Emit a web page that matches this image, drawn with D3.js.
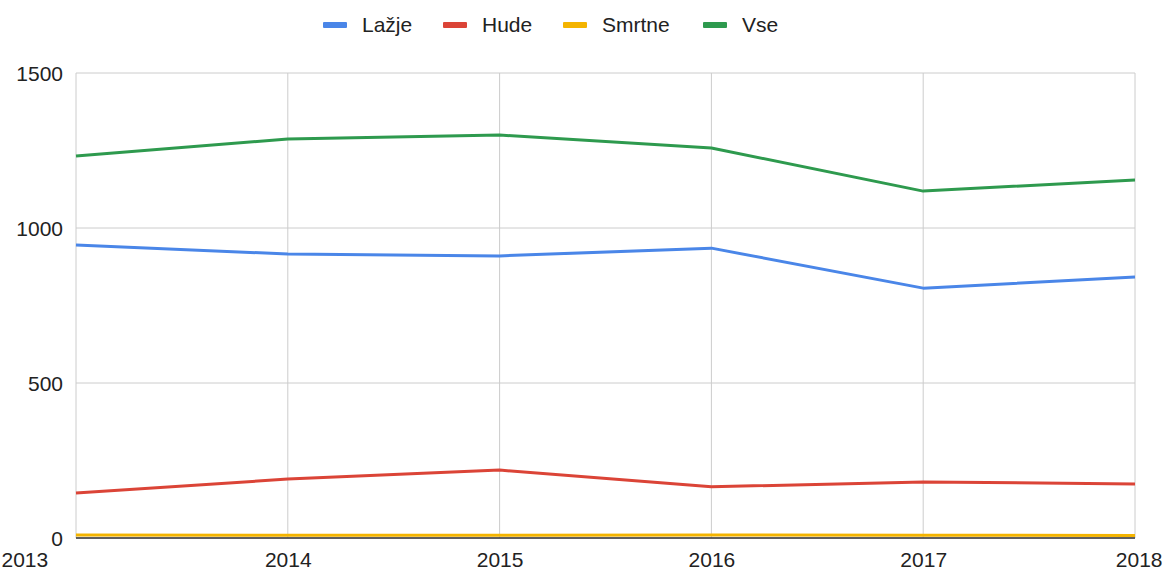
<!DOCTYPE html>
<html>
<head>
<meta charset="utf-8">
<script src="https://cdn.jsdelivr.net/npm/d3@7"></script>
<style>
  body { margin: 0; background: #fff; }
  svg { font-family: "Liberation Sans", Arial, sans-serif; }
  .grid line { stroke: #cccccc; stroke-width: 1; }
  .tick text { fill: #222; font-size: 21px; }
</style>
</head>
<body>
<div id="chart"></div>
<script>
var years   = ["2013", "2014", "2015", "2016", "2017", "2018"]
var lazje   = [945, 916, 910, 935, 806, 842]
var hude    = [145, 190, 219, 165, 181, 174]
var smrtne  = [10, 9, 9, 10, 9, 8]
var vse     = [1232, 1287, 1300, 1258, 1119, 1155]
var yTicks  = [0, 500, 1000, 1500]

var series = [
  {name: "Lažje",  color: "#4a86e8", values: lazje},
  {name: "Hude",   color: "#db4437", values: hude},
  {name: "Smrtne", color: "#f4b400", values: smrtne},
  {name: "Vse",    color: "#2e9a4e", values: vse}
]

var W = 1166, H = 573
var margin = {top: 73, right: 31, bottom: 35, left: 76},
    width  = W - margin.left - margin.right,
    height = H - margin.top - margin.bottom

var svg = d3.select("#chart").append("svg")
  .attr("width", W)
  .attr("height", H)

var g = svg.append("g")
  .attr("transform", "translate(" + margin.left + "," + margin.top + ")")

var x = d3.scalePoint()
  .domain(years)
  .range([0, width])

var y = d3.scaleLinear()
  .domain([0, 1500])
  .range([height, 0])

// gridlines
g.append("g").classed("grid", true)
  .selectAll("line.h").data(yTicks).enter().append("line")
  .attr("x1", 0).attr("x2", width)
  .attr("y1", d => y(d)).attr("y2", d => y(d))

g.select(".grid")
  .selectAll("line.v").data(years).enter().append("line")
  .attr("x1", d => x(d)).attr("x2", d => x(d))
  .attr("y1", 0).attr("y2", height)

// y axis labels
var ya = g.append("g")
  .call(d3.axisLeft(y).tickValues(yTicks).tickSize(0).tickPadding(13).tickFormat(d3.format("d")))
ya.select(".domain").remove()
ya.selectAll(".tick text").attr("dy", "0.35em")

// x axis labels
var xa = g.append("g")
  .attr("transform", "translate(0," + height + ")")
  .call(d3.axisBottom(x).tickSize(0).tickPadding(14))
xa.select(".domain").remove()
xa.selectAll(".tick text")
  .attr("dy", "0.71em")
  .style("text-anchor", (d, i) => i == 0 ? "start" : (i == years.length - 1 ? "end" : "middle"))
  .attr("dx", (d, i) => i == 0 ? -margin.left + 1 : (i == years.length - 1 ? margin.right - 4 : 0))

var line = d3.line()
  .x((d, i) => x(years[i]))
  .y(d => y(d))

g.selectAll("path.series").data(series).enter().append("path")
  .attr("class", "series")
  .attr("fill", "none")
  .attr("stroke", d => d.color)
  .attr("stroke-width", 3)
  .attr("stroke-linejoin", "round")
  .attr("d", d => line(d.values))

// baseline
g.append("line")
  .attr("x1", 0).attr("x2", width)
  .attr("y1", y(0)).attr("y2", y(0))
  .attr("stroke", "#333").attr("stroke-width", 1.5)

// legend
var legendX = [323, 443, 563, 703]
var lg = svg.append("g").selectAll("g").data(series).enter().append("g")
  .attr("transform", (d, i) => "translate(" + legendX[i] + ",25)")
lg.append("rect")
  .attr("x", 0).attr("y", -3).attr("width", 24).attr("height", 6).attr("rx", 1)
  .attr("fill", d => d.color)
lg.append("text")
  .attr("x", 39).attr("dy", "0.35em")
  .attr("fill", "#222").style("font-size", "21px")
  .text(d => d.name)
</script>
</body>
</html>
